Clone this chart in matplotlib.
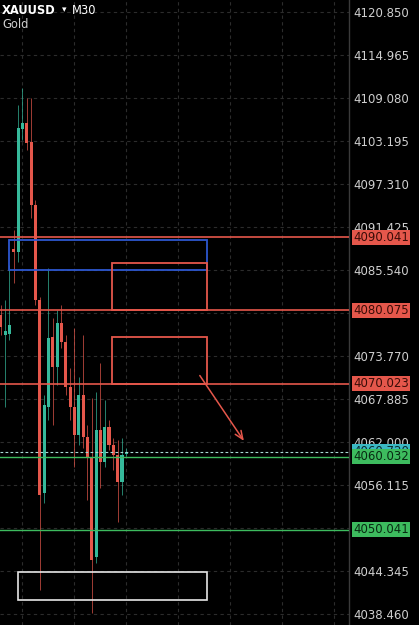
import matplotlib

matplotlib.use("Agg")
import matplotlib.pyplot as plt
from matplotlib.patches import Rectangle
from matplotlib.transforms import blended_transform_factory


# M30 candles (index = bar number from the left edge)
opens = [4079.42, 4076.69, 4076.82, 4088.46, 4088.04, 4104.88, 4105.70, 4103.10,
         4094.48, 4081.48, 4055.06, 4066.83, 4076.41, 4072.31, 4078.33, 4075.73,
         4069.57, 4066.83, 4063.00, 4068.47, 4062.73, 4059.99, 4046.30, 4063.68,
         4059.30, 4064.09, 4061.63, 4060.26, 4056.57, 4060.40]
highs = [4080.79, 4081.48, 4086.27, 4091.06, 4108.16, 4110.49, 4109.12, 4109.12,
         4095.16, 4081.89, 4068.47, 4085.85, 4079.01, 4080.11, 4080.79, 4076.69,
         4072.17, 4077.64, 4070.94, 4076.69, 4064.37, 4068.06, 4068.88, 4072.85,
         4067.79, 4065.05, 4062.59, 4062.32, 4062.59, 4061.22]
lows = [4076.69, 4066.83, 4076.00, 4083.80, 4086.68, 4103.37, 4102.00, 4092.70,
        4080.79, 4041.79, 4053.69, 4065.05, 4064.37, 4069.84, 4074.91, 4068.47,
        4065.05, 4058.62, 4061.63, 4061.22, 4054.10, 4038.64, 4045.48, 4055.75,
        4058.62, 4060.95, 4058.21, 4051.09, 4054.79, 4060.13]
closes = [4077.78, 4077.23, 4078.05, 4088.04, 4105.01, 4105.70, 4102.96, 4094.48,
          4081.48, 4054.79, 4067.11, 4076.27, 4072.31, 4078.33, 4075.73, 4069.57,
          4066.83, 4063.00, 4068.47, 4062.73, 4059.99, 4045.89, 4063.68, 4059.30,
          4064.09, 4061.63, 4060.26, 4056.57, 4060.26, 4060.72]

price_ticks = [4120.850, 4114.965, 4109.080, 4103.195, 4097.310, 4091.425, 4085.540,
               4079.655, 4073.770, 4067.885, 4062.000, 4056.115, 4050.230, 4044.345,
               4038.460]
shown_ticks = [4120.850, 4114.965, 4109.080, 4103.195, 4097.310, 4091.425, 4085.540,
               4073.770, 4067.885, 4062.000, 4056.115, 4044.345, 4038.460]
time_grid = [4.9, 16.9, 28.9, 40.9, 52.9, 64.9, 76.9]

red_levels = [4090.041, 4080.075, 4070.023]
green_levels = [4060.032, 4050.041]
last_price = 4060.72

# drawn zones: (x_start, x_end, price_low, price_high)
blue_zone = (1.9, 47.7, 4085.58, 4089.69)
red_zones = [(25.75, 47.7, 4080.075, 4086.50), (25.75, 47.7, 4070.023, 4076.45)]
white_zone = (3.9, 47.7, 4040.42, 4044.21)
arrow_start = (45.6, 4071.45)
arrow_end = (56.5, 4061.87)

RED = "#e5574b"
GREEN = "#36b99b"
LEVEL_GREEN = "#3dbb5e"
BG = "#000000"
TEXT = "#cfcfcf"

W, H, AXIS_X = 419, 625, 349
PX = 4.33  # pixels per bar


def draw_candles(ax):
    for i, (o, h, l, c) in enumerate(zip(opens, highs, lows, closes)):
        color = GREEN if c >= o else RED
        ax.vlines(i, l, h, color=color, lw=0.7, alpha=0.7, zorder=3)
        ax.bar(i, max(abs(c - o), 0.2), bottom=min(o, c), width=0.72,
               color=color, zorder=4)


def draw_zone(ax, zone, color, lw=1.3):
    x0, x1, lo, hi = zone
    ax.add_patch(Rectangle((x0, lo), x1 - x0, hi - lo, fill=False,
                           edgecolor=color, lw=lw, zorder=5))


def price_label(ax, price, text, face, fg, z=6):
    trans = blended_transform_factory(ax.transAxes, ax.transData)
    ax.text(1 + 4 / AXIS_X, price, text, transform=trans, ha="left", va="center",
            fontsize=8.5, color=fg, clip_on=False, zorder=z,
            bbox=dict(boxstyle="square,pad=0.08", facecolor=face, edgecolor="none"))


def main():
    fig = plt.figure(figsize=(W / 100, H / 100), dpi=100, facecolor=BG)
    ax = fig.add_axes([0, 0, AXIS_X / W, 1], facecolor=BG)

    ax.set_xlim(-0.8 / PX, (AXIS_X - 0.8) / PX)
    ax.set_ylim(4036.99, 4122.53)

    # grid
    for t in time_grid:
        ax.axvline(t, color="#2c2c2c", lw=0.8, ls=(0, (3, 3)), zorder=1)
    for p in price_ticks:
        ax.axhline(p, color="#2c2c2c", lw=0.8, ls=(0, (3, 3)), zorder=1)

    for s in ["left", "top", "bottom"]:
        ax.spines[s].set_visible(False)
    ax.spines["right"].set_color("#3a3a3a")
    ax.spines["right"].set_linewidth(1.0)
    ax.set_xticks([])
    ax.yaxis.tick_right()
    ax.set_yticks(shown_ticks)
    ax.set_yticklabels([f"{p:.3f}" for p in shown_ticks])
    ax.tick_params(axis="y", length=0, pad=3, labelsize=8.5, labelcolor=TEXT)

    draw_candles(ax)

    for p in red_levels:
        ax.axhline(p, color=RED, lw=1.2, zorder=5)
    for p in green_levels:
        ax.axhline(p, color=LEVEL_GREEN, lw=1.0, zorder=5)
    ax.axhline(last_price, color="#a8d8d4", lw=0.8, ls=(0, (2.5, 2)), zorder=5)

    draw_zone(ax, blue_zone, "#2d57cf")
    for z in red_zones:
        draw_zone(ax, z, RED)
    draw_zone(ax, white_zone, "#e6e6e6", lw=1.2)

    ax.annotate("", xy=arrow_end, xytext=arrow_start, zorder=6,
                arrowprops=dict(arrowstyle="->,head_length=0.6,head_width=0.25",
                                color=RED, lw=1.1))

    for p in red_levels:
        price_label(ax, p, f"{p:.3f}", RED, "#3a0c07")
    price_label(ax, last_price, f"{last_price:.3f}", "#3bb8c4", "#0a2a2c", z=6)
    for p in green_levels:
        price_label(ax, p, f"{p:.3f}", LEVEL_GREEN, "#082a12", z=7)

    # symbol header
    fig.text(2 / W, 1 - 10 / H, "XAUUSD", color="white", fontsize=8.3,
             fontweight="bold", va="center", ha="left")
    fig.text(62 / W, 1 - 10 / H, "\u25be", color="white", fontsize=6.5,
             va="center", ha="left")
    fig.text(72 / W, 1 - 10 / H, "M30", color="white", fontsize=8.3,
             va="center", ha="left")
    fig.text(2 / W, 1 - 24 / H, "Gold", color=TEXT, fontsize=8.3,
             va="center", ha="left")

    fig.savefig("out.png", dpi=100, facecolor=BG)
    plt.close(fig)


if __name__ == "__main__":
    main()
